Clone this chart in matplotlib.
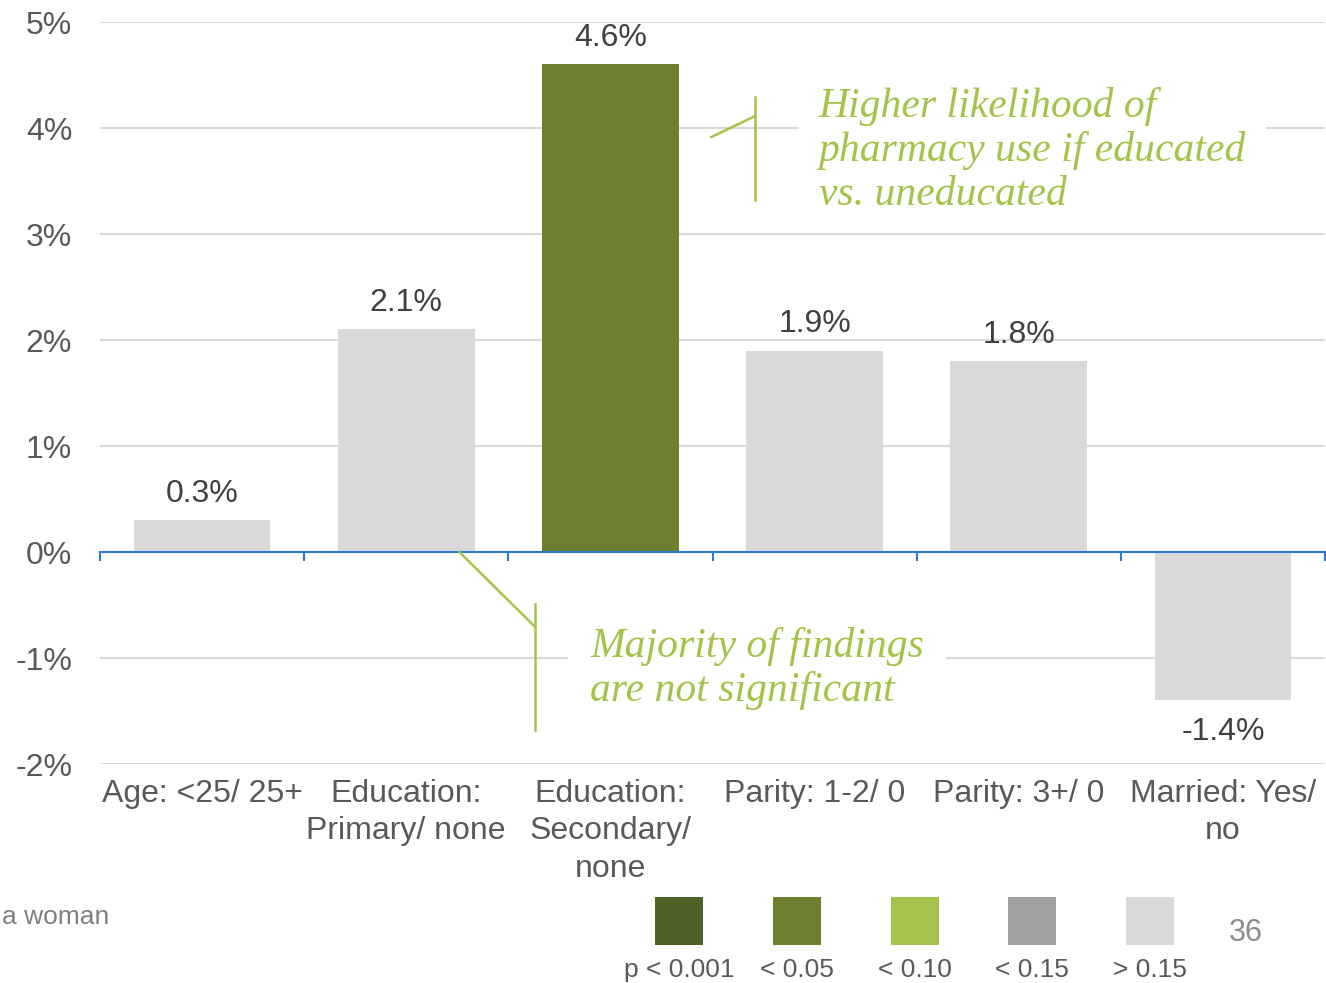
import matplotlib
matplotlib.use("Agg")
import matplotlib.pyplot as plt
from matplotlib.patches import Rectangle
import matplotlib.transforms as mtransforms

plt.rcParams['font.family'] = ['Liberation Sans', 'DejaVu Sans']

# odds difference by characteristic
categories = ["Age: <25/ 25+", "Education:\nPrimary/ none", "Education:\nSecondary/\nnone",
              "Parity: 1-2/ 0", "Parity: 3+/ 0", "Married: Yes/\nno"]
values = [0.3, 2.1, 4.6, 1.9, 1.8, -1.4]
bar_colors = ["#D9D9D9", "#D9D9D9", "#6E8030", "#D9D9D9", "#D9D9D9", "#D9D9D9"]
yticks = [-2, -1, 0, 1, 2, 3, 4, 5]

legend_labels = ["p < 0.001", "< 0.05", "< 0.10", "< 0.15", "> 0.15"]
legend_colors = ["#4F6228", "#6E8030", "#A5C34A", "#A0A0A0", "#D9D9D9"]

note_green = "#A5C34A"
axis_blue = "#2E7AD1"
text_gray = "#595959"

fig = plt.figure(figsize=(13.26, 9.83), dpi=100)
ax = fig.add_axes([100 / 1326, 1 - 764 / 983, 1225 / 1326, 742 / 983])

x = list(range(len(categories)))
ax.bar(x, values, width=0.67, color=bar_colors, zorder=3)

ax.set_xlim(-0.5, len(categories) - 0.5)
ax.set_ylim(-2, 5)
ax.set_yticks(yticks)
ax.set_yticklabels([f"{v}%" for v in yticks], fontsize=23, color=text_gray)
ax.tick_params(axis='y', length=0, pad=20)
ax.yaxis.grid(True, color="#D9D9D9", lw=1.5, zorder=0)
ax.set_axisbelow(True)

for side in ["left", "right", "top"]:
    ax.spines[side].set_visible(False)
ax.spines["bottom"].set_position(("data", 0))
ax.spines["bottom"].set_color(axis_blue)
ax.spines["bottom"].set_linewidth(1.5)
ax.spines["bottom"].set_zorder(4)
ax.set_xticks([i - 0.5 for i in range(len(categories) + 1)])
ax.set_xticklabels([])
ax.tick_params(axis='x', direction='out', length=6.5, width=1.5, color=axis_blue)

# value labels
for xi, v in zip(x, values):
    if v >= 0:
        ax.annotate(f"{v}%", (xi, v), xytext=(0, 8), textcoords="offset points",
                    ha="center", va="bottom", fontsize=23, color="#404040")
    else:
        ax.annotate(f"{v}%", (xi, v), xytext=(0, -12), textcoords="offset points",
                    ha="center", va="top", fontsize=23, color="#404040")

# category labels under the plot area
trans = mtransforms.blended_transform_factory(ax.transData, ax.transAxes)
for xi, lab in zip(x, categories):
    ax.text(xi, -0.02, lab, transform=trans, ha="center", va="top",
            fontsize=23, color=text_gray, linespacing=1.33)

# callouts
ax.plot([2.495, 2.706], [3.915, 4.11], color=note_green, lw=1.8, zorder=5)
ax.plot([2.706, 2.706], [4.29, 3.32], color=note_green, lw=1.8, zorder=5)
ax.text(3.02, 3.79, "Higher likelihood of\npharmacy use if educated\nvs. uneducated",
        family="Liberation Serif", style="italic", fontsize=30, color=note_green,
        ha="left", va="center", linespacing=1.17, zorder=6,
        bbox=dict(facecolor="white", edgecolor="none", pad=14))

ax.plot([1.26, 1.632], [0, -0.708], color=note_green, lw=1.8, zorder=5)
ax.plot([1.632, 1.632], [-0.49, -1.68], color=note_green, lw=1.8, zorder=5)
ax.text(1.90, -1.10, "Majority of findings\nare not significant",
        family="Liberation Serif", style="italic", fontsize=30, color=note_green,
        ha="left", va="center", linespacing=1.17, zorder=6,
        bbox=dict(facecolor="white", edgecolor="none", pad=16))

# significance key
key_x = [655, 773, 891, 1008, 1126]
for kx, lab, col in zip(key_x, legend_labels, legend_colors):
    fig.add_artist(Rectangle((kx / 1326, 1 - 945 / 983), 48 / 1326, 48 / 983,
                             transform=fig.transFigure, color=col, lw=0))
    fig.text((kx + 24) / 1326, 1 - 970 / 983, lab, ha="center", va="center",
             fontsize=19, color=text_gray)

fig.text(1246 / 1326, 1 - 933 / 983, "36", ha="center", va="center",
         fontsize=22, color="#8C8C8C")
fig.text(2 / 1326, 1 - 917 / 983, "a woman", ha="left", va="center",
         fontsize=19, color="#808080")

fig.savefig("out.png", dpi=100)
